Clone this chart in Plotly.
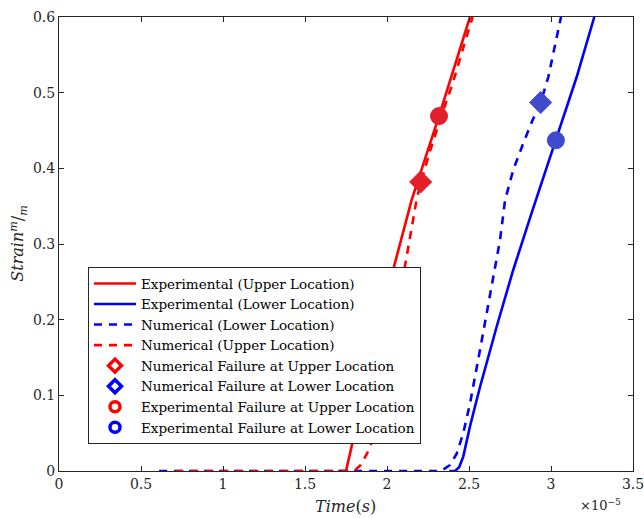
import plotly.graph_objects as go

# time in units of 1e-5 s
exp_upper_t = [1.70, 1.75, 1.805, 2.045, 2.15, 2.317, 2.506]
exp_upper_s = [0.0, 0.0, 0.052, 0.272, 0.358, 0.469, 0.600]

exp_lower_t = [2.38, 2.415, 2.44, 2.465, 2.506, 2.567, 2.669, 2.770, 2.888, 3.03, 3.157, 3.264]
exp_lower_s = [0.0, 0.0, 0.005, 0.019, 0.059, 0.111, 0.191, 0.266, 0.345, 0.437, 0.521, 0.600]

num_lower_t = [0.61, 2.33, 2.384, 2.425, 2.465, 2.506, 2.567, 2.628, 2.689, 2.72, 2.77, 2.831, 2.888, 2.937, 2.984, 3.018, 3.061]
num_lower_s = [0.0, 0.0, 0.008, 0.023, 0.050, 0.089, 0.160, 0.230, 0.305, 0.358, 0.398, 0.433, 0.464, 0.487, 0.521, 0.556, 0.600]

num_upper_t = [0.71, 1.80, 1.84, 1.88, 1.933, 2.116, 2.18, 2.207, 2.264, 2.331, 2.40, 2.46, 2.522]
num_upper_s = [0.0, 0.0, 0.008, 0.024, 0.052, 0.279, 0.358, 0.382, 0.424, 0.469, 0.512, 0.556, 0.600]

num_fail_upper = (2.205, 0.382)
num_fail_lower = (2.937, 0.487)
exp_fail_upper = (2.317, 0.469)
exp_fail_lower = (3.03, 0.437)

x_ticks = [0, 0.5, 1, 1.5, 2, 2.5, 3, 3.5]
y_ticks = [0, 0.1, 0.2, 0.3, 0.4, 0.5, 0.6]

RED = "#FF0000"
BLUE = "#0000FF"
MRED = "#E3202A"
MBLUE = "#3F4ACC"
FONT = "DejaVu Serif"

fig = go.Figure()
fig.add_trace(go.Scatter(x=exp_upper_t, y=exp_upper_s, mode="lines",
                         line=dict(color=RED, width=2.6),
                         name="Experimental (Upper Location)"))
fig.add_trace(go.Scatter(x=exp_lower_t, y=exp_lower_s, mode="lines",
                         line=dict(color=BLUE, width=2.6),
                         name="Experimental (Lower Location)"))
fig.add_trace(go.Scatter(x=num_lower_t, y=num_lower_s, mode="lines",
                         line=dict(color=BLUE, width=2.6, dash="8px,7px"),
                         name="Numerical (Lower Location)"))
fig.add_trace(go.Scatter(x=num_upper_t, y=num_upper_s, mode="lines",
                         line=dict(color=RED, width=2.6, dash="8px,7px"),
                         name="Numerical (Upper Location)"))

markers = [
    (num_fail_upper, "diamond", MRED, RED, "Numerical Failure at Upper Location"),
    (num_fail_lower, "diamond", MBLUE, BLUE, "Numerical Failure at Lower Location"),
    (exp_fail_upper, "circle", MRED, RED, "Experimental Failure at Upper Location"),
    (exp_fail_lower, "circle", MBLUE, BLUE, "Experimental Failure at Lower Location"),
]
for (pt, sym, fc, lc, nm) in markers:
    fig.add_trace(go.Scatter(x=[pt[0]], y=[pt[1]], mode="markers",
                             marker=dict(symbol=sym, size=17, color=fc,
                                         line=dict(color=fc, width=1)),
                             showlegend=False, name=nm))
for (pt, sym, fc, lc, nm) in markers:
    fig.add_trace(go.Scatter(x=[None], y=[None], mode="markers",
                             marker=dict(symbol=sym + "-open", size=10, color=lc,
                                         line=dict(color=lc, width=3.5)),
                             name=nm))

axis_common = dict(showgrid=False, zeroline=False, showline=True, linecolor="#262626",
                   linewidth=1, mirror="ticks", ticks="inside", ticklen=5,
                   tickcolor="#262626", automargin=False, ticklabeloverflow="allow",
                   tickfont=dict(family=FONT, size=14, color="#262626"))

fig.update_xaxes(range=[0, 3.5], tickvals=x_ticks, ticktext=[f"{v:g}" for v in x_ticks],
                 **axis_common)
fig.update_yaxes(range=[0, 0.6], tickvals=y_ticks, ticktext=[f"{v:g}" for v in y_ticks],
                 **axis_common)

fig.update_layout(
    width=644, height=518,
    margin=dict(l=59, r=11, t=17, b=47, autoexpand=False),
    paper_bgcolor="white", plot_bgcolor="white",
    showlegend=True,
    legend=dict(x=0.0505, y=0.449, xanchor="left", yanchor="top",
                bgcolor="white", bordercolor="#262626", borderwidth=1,
                font=dict(family=FONT, size=13.5, color="black"),
                itemwidth=42, tracegroupgap=0),
    annotations=[
        dict(text="<i>Time</i>(<i>s</i>)", xref="paper", yref="paper", x=0.4983, y=-0.079,
             xanchor="center", yanchor="middle", showarrow=False,
             font=dict(family=FONT, size=16, color="#262626")),
        dict(text="<i>Strain</i><sup><i>m</i></sup>/<sub><i>m</i></sub>", xref="paper", yref="paper",
             x=-0.072, y=0.502, xanchor="center", yanchor="middle", textangle=-90,
             showarrow=False, font=dict(family=FONT, size=16, color="#262626")),
        dict(text="×10<sup>−5</sup>", xref="paper", yref="paper", x=0.944, y=-0.074,
             xanchor="center", yanchor="middle", showarrow=False,
             font=dict(family=FONT, size=13, color="#262626")),
    ],
)

fig.write_html("out.html")
